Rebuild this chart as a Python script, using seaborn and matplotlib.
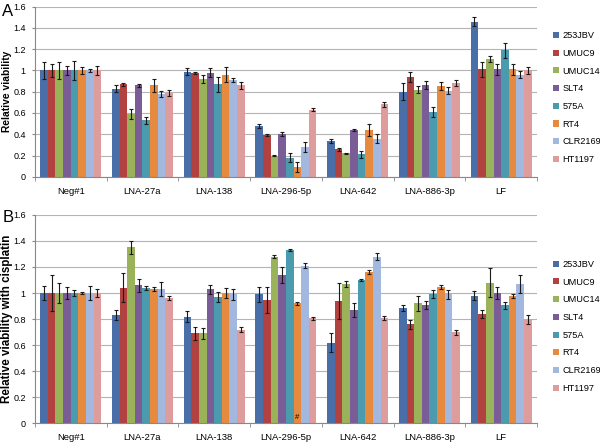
# Cell viability bar charts (panel A: LNA only, panel B: with cisplatin)
import pandas as pd
import seaborn as sns
import matplotlib.pyplot as plt
from matplotlib.patches import Patch

categories = ["Neg#1", "LNA-27a", "LNA-138", "LNA-296-5p", "LNA-642", "LNA-886-3p", "LF"]
cell_lines = ["253JBV", "UMUC9", "UMUC14", "SLT4", "575A", "RT4", "CLR2169", "HT1197"]
colors = ["#4A6EA8", "#B2423F", "#9AB35A", "#7A5C97", "#4A9BAE", "#E58A3E", "#A3B8DF", "#DE9C9C"]

# rows = categories, columns = cell lines
viability = [
    [1.00, 1.00, 1.00, 1.00, 1.00, 1.00, 1.00, 1.00],
    [0.83, 0.87, 0.59, 0.86, 0.53, 0.86, 0.78, 0.79],
    [0.99, 0.98, 0.92, 0.98, 0.87, 0.96, 0.91, 0.86],
    [0.48, 0.39, 0.20, 0.40, 0.18, 0.09, 0.28, 0.63],
    [0.34, 0.26, 0.22, 0.44, 0.21, 0.44, 0.36, 0.68],
    [0.80, 0.94, 0.82, 0.865, 0.61, 0.855, 0.81, 0.88],
    [1.46, 1.01, 1.11, 1.01, 1.19, 1.01, 0.96, 1.00],
]
viability_err = [
    [0.08, 0.06, 0.08, 0.04, 0.09, 0.03, 0.01, 0.04],
    [0.03, 0.015, 0.05, 0.015, 0.03, 0.06, 0.03, 0.03],
    [0.03, 0.01, 0.04, 0.04, 0.07, 0.07, 0.02, 0.03],
    [0.02, 0.01, 0.005, 0.02, 0.04, 0.045, 0.045, 0.015],
    [0.02, 0.015, 0.005, 0.01, 0.03, 0.06, 0.04, 0.02],
    [0.08, 0.05, 0.03, 0.04, 0.05, 0.04, 0.03, 0.03],
    [0.04, 0.07, 0.03, 0.05, 0.07, 0.05, 0.035, 0.03],
]
cis_viability = [
    [1.00, 1.00, 1.00, 1.00, 1.00, 1.00, 1.00, 1.00],
    [0.83, 1.04, 1.35, 1.06, 1.04, 1.03, 1.03, 0.965],
    [0.82, 0.69, 0.69, 1.03, 0.97, 1.00, 0.99, 0.72],
    [0.99, 0.95, 1.28, 1.14, 1.33, 0.92, 1.21, 0.805],
    [0.62, 0.94, 1.07, 0.87, 1.10, 1.16, 1.28, 0.81],
    [0.885, 0.76, 0.92, 0.91, 0.995, 1.045, 0.99, 0.70],
    [0.98, 0.84, 1.08, 1.00, 0.905, 0.98, 1.07, 0.80],
]
cis_err = [
    [0.055, 0.14, 0.08, 0.045, 0.02, 0.01, 0.055, 0.03],
    [0.04, 0.11, 0.05, 0.05, 0.015, 0.015, 0.055, 0.015],
    [0.04, 0.05, 0.045, 0.035, 0.035, 0.035, 0.04, 0.02],
    [0.06, 0.10, 0.015, 0.06, 0.005, 0.01, 0.02, 0.01],
    [0.07, 0.14, 0.025, 0.05, 0.01, 0.015, 0.03, 0.015],
    [0.02, 0.035, 0.055, 0.03, 0.03, 0.015, 0.035, 0.02],
    [0.035, 0.03, 0.11, 0.045, 0.025, 0.015, 0.07, 0.035],
]

plt.rcParams['font.family'] = ['Liberation Sans', 'DejaVu Sans']


def draw_panel(ax, values, errors, ylabel, ylabel_size):
    df = pd.DataFrame(
        [(c, l, values[i][j]) for i, c in enumerate(categories) for j, l in enumerate(cell_lines)],
        columns=["group", "line", "value"])
    sns.barplot(data=df, x="group", y="value", hue="line", order=categories,
                hue_order=cell_lines, palette=colors, width=0.85, errorbar=None,
                linewidth=0, saturation=1, ax=ax)
    bar_conts = list(ax.containers)
    for j, cont in enumerate(bar_conts):
        xs = [b.get_x() + b.get_width() / 2 for b in cont]
        hs = [b.get_height() for b in cont]
        ax.errorbar(xs, hs, yerr=[errors[i][j] for i in range(len(categories))],
                    fmt='none', ecolor='#1a1a1a', elinewidth=0.8, capsize=1.6, capthick=0.8)
    ax.get_legend().remove()
    ax.set_ylim(0, 1.6)
    ax.set_yticks([0, 0.2, 0.4, 0.6, 0.8, 1.0, 1.2, 1.4, 1.6])
    ax.set_yticklabels(["0", "0.2", "0.4", "0.6", "0.8", "1", "1.2", "1.4", "1.6"], fontsize=6.5)
    ax.set_xticks(range(len(categories)))
    ax.set_xticklabels(categories, fontsize=6.8)
    ax.set_xticks([i - 0.5 for i in range(len(categories) + 1)], minor=True)
    ax.tick_params(axis='x', which='major', length=0, pad=7)
    ax.tick_params(axis='x', which='minor', length=3, color='#888888')
    ax.tick_params(axis='y', length=2.5, color='#888888', pad=4)
    ax.set_xlim(-0.5, len(categories) - 0.5)
    ax.yaxis.grid(True, color='#b4b4b4', linewidth=0.8)
    ax.set_axisbelow(True)
    for s in ['top', 'right']:
        ax.spines[s].set_visible(False)
    for s in ['left', 'bottom']:
        ax.spines[s].set_color('#888888')
        ax.spines[s].set_linewidth(0.8)
    ax.set_xlabel("")
    ax.set_ylabel(ylabel, fontsize=ylabel_size, fontweight='bold', va='center')
    ax.yaxis.set_label_coords(-0.055, 0.5)
    handles = [Patch(facecolor=c, edgecolor='none') for c in colors]
    ax.legend(handles, cell_lines, loc='center left', bbox_to_anchor=(1.025, 0.465),
              frameon=False, fontsize=6.6, handlelength=0.65, handleheight=0.65,
              handletextpad=0.35, labelspacing=0.95, borderaxespad=0)
    return bar_conts


fig = plt.figure(figsize=(6, 4.42), dpi=100)
ax_a = fig.add_axes([0.058, 0.600, 0.837, 0.385])
ax_b = fig.add_axes([0.058, 0.042, 0.837, 0.472])

draw_panel(ax_a, viability, viability_err, "Relative viability", 7.4)
conts_b = draw_panel(ax_b, cis_viability, cis_err, "Relative viability with cisplatin", 8.4)

# "#" marks the RT4 bar for LNA-296-5p in panel B
rt4_bar = conts_b[cell_lines.index("RT4")][categories.index("LNA-296-5p")]
ax_b.text(rt4_bar.get_x() + rt4_bar.get_width() / 2, 0.02, "#", ha='center', va='bottom', fontsize=5.5)

fig.text(0.004, 0.975, "A", fontsize=12, va='center')
fig.text(0.004, 0.507, "B", fontsize=12, va='center')

plt.savefig("out.png", dpi=100)
